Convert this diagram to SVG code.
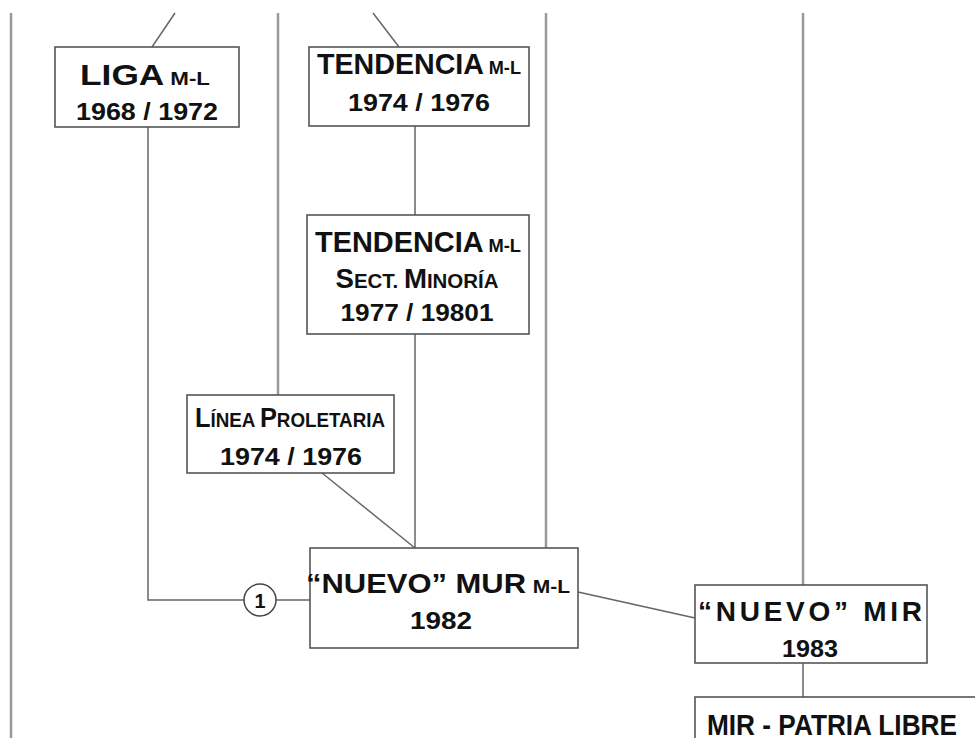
<svg xmlns="http://www.w3.org/2000/svg" width="975" height="738" viewBox="0 0 975 738">
<style>
.box{fill:#fff;stroke:#555;stroke-width:1.6}
.ln{stroke:#666;stroke-width:1.5;fill:none}
.vl{stroke:#999;stroke-width:2.5;fill:none}
text{font-family:"Liberation Sans",Arial,sans-serif;font-weight:bold;fill:#111;text-anchor:middle}
.big{font-size:30px}
.cap{font-size:27px}
.sc{font-size:20px}
.ml{font-size:19px}
.yr{font-size:24px}
</style>
<rect width="975" height="738" fill="#fff"/>
<g id="connectors">
<line class="vl" x1="11" y1="13" x2="11" y2="738"/>
<line class="vl" x1="278" y1="13" x2="278" y2="395"/>
<line class="vl" x1="546" y1="13" x2="546" y2="548"/>
<line class="vl" x1="803" y1="13" x2="803" y2="585"/>
<line class="ln" x1="175" y1="13" x2="152" y2="47"/>
<line class="ln" x1="373" y1="13" x2="399" y2="47"/>
<line class="ln" x1="415" y1="126" x2="415" y2="215"/>
<line class="ln" x1="415" y1="334" x2="415" y2="548"/>
<line class="ln" x1="322" y1="473" x2="415" y2="548"/>
<polyline class="ln" points="148,127 148,600 244,600"/>
<line class="ln" x1="276" y1="600" x2="310" y2="600"/>
<line class="ln" x1="578" y1="592" x2="695" y2="618"/>
<line class="ln" x1="803" y1="663" x2="803" y2="697"/>
</g>
<g id="circle1">
<circle cx="260" cy="600" r="16" fill="#fff" stroke="#444" stroke-width="1.5"/>
<text x="260" y="608" style="font-size:21px" textLength="11" lengthAdjust="spacingAndGlyphs">1</text>
</g>
<g id="liga">
<rect class="box" x="55" y="47" width="184" height="80"/>
<text x="145" y="85" textLength="130" lengthAdjust="spacingAndGlyphs"><tspan class="big">LIGA</tspan><tspan class="ml" dx="5">M-L</tspan></text>
<text class="yr" x="147" y="120" textLength="142" lengthAdjust="spacingAndGlyphs">1968 / 1972</text>
</g>
<g id="tendencia1">
<rect class="box" x="309" y="47" width="220" height="79"/>
<text x="419" y="74" textLength="204" lengthAdjust="spacingAndGlyphs"><tspan class="big">TENDENCIA</tspan><tspan class="ml" dx="5">M-L</tspan></text>
<text class="yr" x="419" y="111" textLength="142" lengthAdjust="spacingAndGlyphs">1974 / 1976</text>
</g>
<g id="tendencia2">
<rect class="box" x="307" y="215" width="222" height="119"/>
<text x="418" y="252" textLength="206" lengthAdjust="spacingAndGlyphs"><tspan class="big">TENDENCIA</tspan><tspan class="ml" dx="5">M-L</tspan></text>
<text x="417" y="288" textLength="163" lengthAdjust="spacingAndGlyphs"><tspan class="cap">S</tspan><tspan class="sc">ECT. </tspan><tspan class="cap">M</tspan><tspan class="sc">INORÍA</tspan></text>
<text class="yr" x="417" y="321" textLength="153" lengthAdjust="spacingAndGlyphs">1977 / 19801</text>
</g>
<g id="linea">
<rect class="box" x="187" y="395" width="207" height="78"/>
<text x="290" y="427" textLength="190" lengthAdjust="spacingAndGlyphs"><tspan class="cap">L</tspan><tspan class="sc">ÍNEA </tspan><tspan class="cap">P</tspan><tspan class="sc">ROLETARIA</tspan></text>
<text class="yr" x="291" y="465" textLength="142" lengthAdjust="spacingAndGlyphs">1974 / 1976</text>
</g>
<g id="nuevomur">
<rect class="box" x="310" y="548" width="268" height="100"/>
<text x="438" y="593" textLength="264" lengthAdjust="spacingAndGlyphs"><tspan style="font-size:28px">“NUEVO”  MUR</tspan><tspan class="ml" dx="6">M-L</tspan></text>
<text class="yr" x="441" y="629" textLength="62" lengthAdjust="spacingAndGlyphs">1982</text>
</g>
<g id="nuevomir">
<rect class="box" x="695" y="585" width="232" height="78"/>
<text x="810" y="621" style="font-size:28px" textLength="224" lengthAdjust="spacing">“NUEVO” MIR</text>
<text class="yr" x="810" y="657" textLength="56" lengthAdjust="spacingAndGlyphs">1983</text>
</g>
<g id="patrialibre">
<rect class="box" x="695" y="697" width="290" height="60"/>
<text x="832" y="735" style="font-size:30px" textLength="250" lengthAdjust="spacingAndGlyphs">MIR - PATRIA LIBRE</text>
</g>
</svg>
